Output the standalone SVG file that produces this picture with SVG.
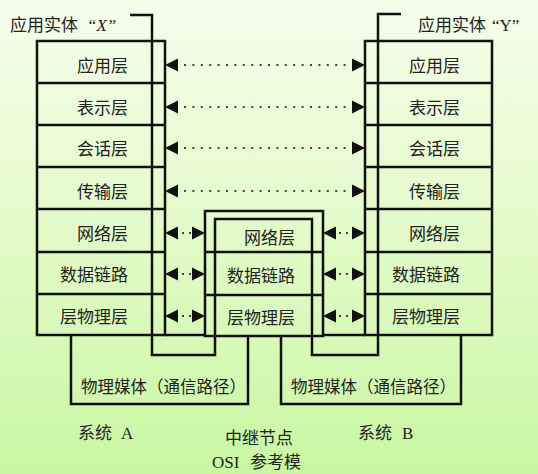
<svg xmlns="http://www.w3.org/2000/svg" xmlns:xlink="http://www.w3.org/1999/xlink" width="538" height="474" viewBox="0 0 538 474">
<defs>
<linearGradient id="bg" x1="0" y1="0" x2="0" y2="1">
<stop offset="0" stop-color="#f6fdeb"/>
<stop offset="0.5" stop-color="#e2fbc8"/>
<stop offset="1" stop-color="#c9f7a2"/>
</linearGradient>
<path id="ahL" d="M0,0 L13,-6.5 L13,6.5 Z" fill="#111"/>
<path id="ahR" d="M0,0 L-13,-6.5 L-13,6.5 Z" fill="#111"/>
<style>
.box{fill:none;stroke:#111;stroke-width:2.5}
.ln{stroke:#111;stroke-width:2.5;fill:none}
.dot{stroke:#444;stroke-width:2;stroke-dasharray:2 6.4}
.sdot{stroke:#444;stroke-width:2;stroke-dasharray:2 5}
.t{font-family:"Noto Sans CJK SC","Liberation Serif",serif;font-size:17px;fill:#222}
.r{text-anchor:end}
.lat{font-family:"Liberation Serif","Noto Sans CJK SC",serif}
</style>
</defs>
<rect x="0" y="0" width="538" height="474" fill="url(#bg)"/>

<g id="stackA">
<rect class="box" x="37" y="41" width="128" height="294"/>
<path class="ln" d="M37,83H165 M37,125H165 M37,167H165 M37,209H165 M37,252H165 M37,294H165"/>
<text class="t r" x="128" y="71.5">应用层</text>
<text class="t r" x="128" y="113.5">表示层</text>
<text class="t r" x="128" y="154.5">会话层</text>
<text class="t r" x="128" y="197.5">传输层</text>
<text class="t r" x="128" y="239.5">网络层</text>
<text class="t r" x="128" y="280.5">数据链路</text>
<text class="t r" x="128" y="322.5">层物理层</text>
</g>

<g id="stackB">
<rect class="box" x="365" y="41" width="127" height="294"/>
<path class="ln" d="M365,83H492 M365,125H492 M365,167H492 M365,209H492 M365,252H492 M365,294H492"/>
<text class="t r" x="460" y="71.5">应用层</text>
<text class="t r" x="460" y="113.5">表示层</text>
<text class="t r" x="460" y="154.5">会话层</text>
<text class="t r" x="460" y="197.5">传输层</text>
<text class="t r" x="460" y="239.5">网络层</text>
<text class="t r" x="460" y="280.5">数据链路</text>
<text class="t r" x="460" y="322.5">层物理层</text>
</g>

<g id="relay">
<rect class="box" x="205" y="211" width="118" height="125"/>
<path class="ln" d="M205,252H323 M205,295H323"/>
<text class="t r" x="295" y="243.5">网络层</text>
<text class="t r" x="295" y="281.5">数据链路</text>
<text class="t r" x="295" y="323.5">层物理层</text>
</g>

<g id="mediaA">
<path class="ln" d="M71,335V404H248V336"/>
<text class="t" x="81" y="393" style="font-size:16.5px">物理媒体（通信路径）</text>
</g>

<g id="mediaB">
<path class="ln" d="M281,336V404H461V335"/>
<text class="t" x="291" y="393" style="font-size:16.5px">物理媒体（通信路径）</text>
</g>

<g id="labels">
<text class="t" x="10" y="31">应用实体<tspan class="lat" x="87" font-style="italic">“X”</tspan></text>
<text class="t" x="418" y="31">应用实体<tspan class="lat" x="492">“Y”</tspan></text>
<text class="t" x="78" y="439">系统<tspan class="lat" x="121">A</tspan></text>
<text class="t" x="358" y="439">系统<tspan class="lat" x="402">B</tspan></text>
<text class="t" x="225" y="444">中继节点</text>
<text class="t" x="212" y="468"><tspan class="lat">OSI</tspan><tspan x="250">参考模</tspan></text>
</g>

<g id="connectors">
<path class="ln" d="M130,15H152V355H215V219H312V355H378V14H401"/>
<line class="ln" x1="165" y1="335" x2="205" y2="335"/>
<line class="ln" x1="323" y1="335" x2="365" y2="335"/>
<g id="peer-arrows">
<use xlink:href="#ahL" x="165" y="65"/><use xlink:href="#ahR" x="365" y="65"/>
<line class="dot" x1="184" y1="65" x2="352" y2="65"/>
<use xlink:href="#ahL" x="165" y="107"/><use xlink:href="#ahR" x="365" y="107"/>
<line class="dot" x1="184" y1="107" x2="352" y2="107"/>
<use xlink:href="#ahL" x="165" y="148"/><use xlink:href="#ahR" x="365" y="148"/>
<line class="dot" x1="184" y1="148" x2="352" y2="148"/>
<use xlink:href="#ahL" x="165" y="191"/><use xlink:href="#ahR" x="365" y="191"/>
<line class="dot" x1="184" y1="191" x2="352" y2="191"/>
</g>
<g id="hop-arrows">
<use xlink:href="#ahL" x="165" y="233"/><use xlink:href="#ahR" x="205" y="233"/>
<line class="sdot" x1="182" y1="233" x2="191" y2="233"/>
<use xlink:href="#ahL" x="165" y="274"/><use xlink:href="#ahR" x="205" y="274"/>
<line class="sdot" x1="182" y1="274" x2="191" y2="274"/>
<use xlink:href="#ahL" x="165" y="316"/><use xlink:href="#ahR" x="205" y="316"/>
<line class="sdot" x1="182" y1="316" x2="191" y2="316"/>
<use xlink:href="#ahL" x="323" y="233"/><use xlink:href="#ahR" x="365" y="233"/>
<line class="sdot" x1="339" y1="233" x2="348" y2="233"/>
<use xlink:href="#ahL" x="323" y="274"/><use xlink:href="#ahR" x="365" y="274"/>
<line class="sdot" x1="339" y1="274" x2="348" y2="274"/>
<use xlink:href="#ahL" x="323" y="316"/><use xlink:href="#ahR" x="365" y="316"/>
<line class="sdot" x1="339" y1="316" x2="348" y2="316"/>
</g>
</g>
</svg>
